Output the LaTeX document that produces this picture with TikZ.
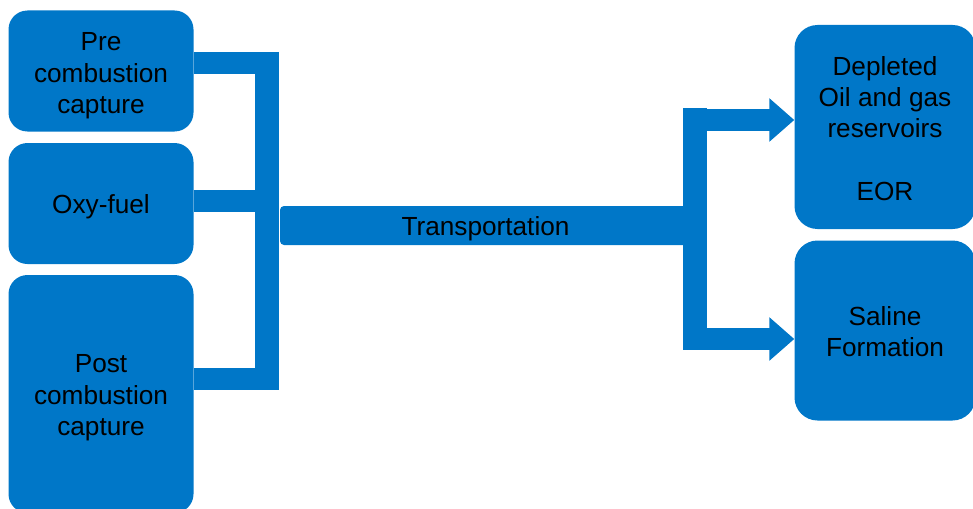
\documentclass[tikz,border=0pt]{standalone}
\usepackage{fontspec}
\setmainfont{Liberation Sans}
\usetikzlibrary{arrows.meta}
\definecolor{ccsblue}{RGB}{0,119,200}
\newcommand\btext[2]{\raisebox{#1}[\height][\depth]{\begin{tabular}{@{}c@{}}#2\end{tabular}}}
\tikzset{
  box/.style={fill=ccsblue, draw=none, rounded corners=19pt, text=black,
    font=\fontsize{26.2}{31.3}\selectfont, inner sep=0pt},
  rbox/.style={box, rounded corners=23pt},
  tbox/.style={box, rounded corners=4pt},
  bar/.style={draw=ccsblue, line width=22pt, line cap=butt, line join=miter},
  vbar/.style={draw=ccsblue, line width=24pt, line cap=butt},
  arr/.style={bar, -{Triangle[width=42pt,length=25pt]}}
}
\begin{document}
\begin{tikzpicture}[x=1pt,y=-1pt]
\useasboundingbox (0,0) rectangle (973,508);
\clip (0,0) rectangle (973,508);
% left boxes
\node[box, minimum width=185pt, minimum height=121pt] (pre) at (101,71) {\btext{-5pt}{Pre\\combustion\\capture}};
\node[box, minimum width=185pt, minimum height=121pt] (oxy) at (101,203.5) {\btext{-4pt}{Oxy-fuel}};
\node[box, minimum width=185pt, minimum height=238pt] (post) at (101,394) {\btext{-4pt}{Post\\combustion\\capture}};
% transportation
\node[tbox, minimum width=411pt, minimum height=39pt] (trans) at (485.5,225.5) {\btext{-4pt}{Transportation}};
% right boxes
\node[rbox, minimum width=181pt, minimum height=204pt] (dep) at (885,127) {\btext{-4.5pt}{Depleted\\Oil and gas\\reservoirs\\ \\EOR}};
\node[rbox, minimum width=181pt, minimum height=180pt] (sal) at (885,330.5) {\btext{-4pt}{Saline\\Formation}};
% left bus
\coordinate (lbtop) at (267,52);
\coordinate (lbbot) at (267,390);
\coordinate (l1) at (279,63);
\coordinate (l2) at (279,201);
\coordinate (l3) at (279,379);
\draw[vbar] (lbtop) -- (lbbot);
\draw[bar] (pre.east |- l1) -- (l1);
\draw[bar] (oxy.east |- l2) -- (l2);
\draw[bar] (post.east |- l3) -- (l3);
% right bus
\coordinate (rbtop) at (694.7,108.3);
\coordinate (rbbot) at (694.7,350);
\coordinate (r1) at (694.7,120);
\coordinate (r2) at (694.7,339);
\draw[vbar] (rbtop) -- (rbbot);
\draw[arr] (r1) -- (r1 -| dep.west);
\draw[arr] (r2) -- (r2 -| sal.west);
\end{tikzpicture}
\end{document}
